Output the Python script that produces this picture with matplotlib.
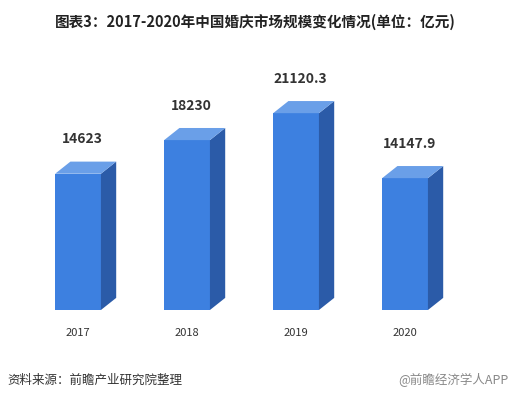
import matplotlib.pyplot as plt
from matplotlib.patches import Polygon

plt.rcParams['font.family'] = ['Noto Sans CJK SC', 'DejaVu Sans']

years = ['2017', '2018', '2019', '2020']
values = [14623, 18230, 21120.3, 14147.9]
labels = ['14623', '18230', '21120.3', '14147.9']

front = '#3d80e0'
side = '#2b5ba8'
top = '#6a9fe8'


def main():
    fig = plt.figure(figsize=(5.11, 4.01), dpi=100)
    ax = fig.add_axes([0, 0, 1, 1])
    ax.set_xlim(-0.716, 3.972)
    ax.set_ylim(-9764, 33263)
    ax.axis('off')

    w = 0.21   # half width of front face
    dx = 0.14  # depth offset
    dy = 1300
    for i, v in enumerate(values):
        l, r = i - w, i + w
        ax.add_patch(Polygon([(l, 0), (r, 0), (r, v), (l, v)], color=front, lw=0))
        ax.add_patch(Polygon([(r, 0), (r + dx, dy), (r + dx, v + dy), (r, v)],
                             color=side, lw=0))
        ax.add_patch(Polygon([(l, v), (r, v), (r + dx, v + dy), (l + dx, v + dy)],
                             color=top, lw=0))
        ax.text(i + 0.04, v + 3700, labels[i], ha='center', va='center',
                fontsize=10, fontweight='bold', color='#333333')
        ax.text(i, -2500, years[i], ha='center', va='center',
                fontsize=8, color='#333333')

    fig.text(0.5, 0.945, '图表3：2017-2020年中国婚庆市场规模变化情况(单位：亿元)',
             ha='center', va='center', fontsize=10.5, fontweight='bold',
             color='#222222')
    fig.text(0.015, 0.052, '资料来源：前瞻产业研究院整理', ha='left', va='center',
             fontsize=9, color='#333333')
    fig.text(0.995, 0.052, '@前瞻经济学人APP', ha='right', va='center',
             fontsize=9, color='#888888')

    fig.savefig('out.png', dpi=100)


if __name__ == '__main__':
    main()
